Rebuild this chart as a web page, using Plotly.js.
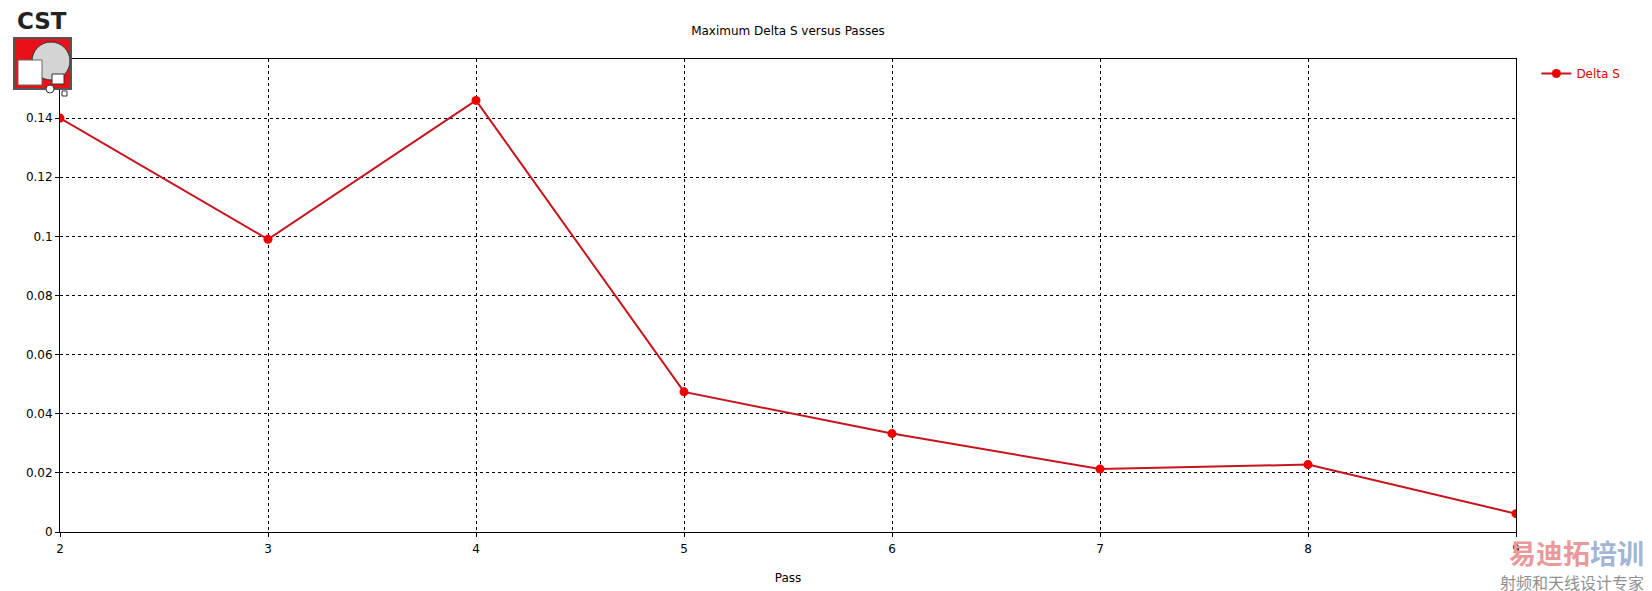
<!DOCTYPE html>
<html>
<head>
<meta charset="utf-8">
<script src="https://cdn.plot.ly/plotly-3.0.1.min.js"></script>
<style>html,body{margin:0;padding:0;background:#fff;}#chart{width:1652px;height:591px;}</style>
</head>
<body>
<div id="chart"></div>
<script>
const passes = [2, 3, 4, 5, 6, 7, 8, 9];
const deltaS = [0.140, 0.099, 0.146, 0.0474, 0.0333, 0.0213, 0.0228, 0.0062];
const yTickVals = [0, 0.02, 0.04, 0.06, 0.08, 0.1, 0.12, 0.14];
const yTickText = ['0', '0.02', '0.04', '0.06', '0.08', '0.1', '0.12', '0.14'];
const xTickVals = [2, 3, 4, 5, 6, 7, 8, 9];

const W = 1652, H = 591;
const M = {l: 60, r: 136, t: 59, b: 59};
const pw = W - M.l - M.r, ph = H - M.t - M.b;
// pixel -> paper helpers for decoration (logo, watermark)
const px = x => (x - M.l) / pw;
const py = y => (H - M.b - y) / ph;

const FONT = 'DejaVu Sans, Verdana, sans-serif';

const trace = {
  x: passes, y: deltaS, type: 'scatter', mode: 'lines+markers', name: 'Delta S',
  line: {color: '#c8141e', width: 2},
  marker: {color: '#ee0000', size: 9}
};

const shapes = [
  {type: 'rect', xref: 'paper', yref: 'paper', x0: px(14), x1: px(71), y0: py(89), y1: py(38),
   fillcolor: '#e8101a', line: {color: '#555', width: 2}, layer: 'above'},
  {type: 'circle', xref: 'paper', yref: 'paper', x0: px(32), x1: px(70), y0: py(80), y1: py(42),
   fillcolor: '#d4d4d4', line: {color: '#333', width: 1}, layer: 'above'},
  {type: 'rect', xref: 'paper', yref: 'paper', x0: px(18), x1: px(42), y0: py(85), y1: py(60),
   fillcolor: '#ffffff', line: {color: '#666', width: 1}, layer: 'above'},
  {type: 'rect', xref: 'paper', yref: 'paper', x0: px(52), x1: px(64), y0: py(84), y1: py(74),
   fillcolor: '#ffffff', line: {color: '#333', width: 1}, layer: 'above'},
  {type: 'circle', xref: 'paper', yref: 'paper', x0: px(46), x1: px(54), y0: py(93), y1: py(85),
   fillcolor: '#ffffff', line: {color: '#333', width: 1}, layer: 'above'},
  {type: 'rect', xref: 'paper', yref: 'paper', x0: px(62), x1: px(67), y0: py(96), y1: py(91),
   fillcolor: '#ffffff', line: {color: '#333', width: 1}, layer: 'above'}
];

const annotations = [
  {text: '<b>CST</b>', xref: 'paper', yref: 'paper', x: px(42), y: py(21), xanchor: 'center', yanchor: 'middle',
   showarrow: false, font: {family: 'DejaVu Sans, sans-serif', size: 23, color: '#222'}},
  {text: '<b><span style="color:#e89a9a">易迪拓</span><span style="color:#9fb6d6">培训</span></b>', xref: 'paper', yref: 'paper',
   x: px(1645), y: py(552), xanchor: 'right', yanchor: 'middle', showarrow: false, borderpad: 0,
   font: {family: 'Noto Sans CJK SC', size: 27, color: '#e89a9a'}},
  {text: '射频和天线设计专家', xref: 'paper', yref: 'paper', x: px(1645), y: py(582), xanchor: 'right', yanchor: 'middle',
   showarrow: false, borderpad: 0, font: {family: 'Noto Sans CJK SC', size: 16, color: '#909090'}}
];

const layout = {
  width: W, height: H,
  margin: M,
  paper_bgcolor: '#ffffff', plot_bgcolor: '#ffffff',
  font: {family: FONT, size: 12, color: '#000'},
  title: {text: 'Maximum Delta S versus Passes', font: {family: FONT, size: 12, color: '#000'},
          x: 0.5, xref: 'paper', xanchor: 'center', y: 1 - 31 / H, yref: 'container', yanchor: 'middle'},
  xaxis: {
    range: [2, 9], tickvals: xTickVals, ticks: 'outside', ticklen: 4, tickcolor: '#000',
    showline: true, linecolor: '#000', linewidth: 1, mirror: true,
    showgrid: true, gridcolor: '#000', gridwidth: 1, griddash: '3px,3px',
    zeroline: false, tickfont: {family: FONT, size: 12, color: '#000'}, ticklabelstandoff: 2,
    title: {text: 'Pass', font: {family: FONT, size: 12, color: '#000'}, standoff: 18}
  },
  yaxis: {
    range: [0, 0.16], tickvals: yTickVals, ticktext: yTickText, ticks: 'outside', ticklen: 4, tickcolor: '#000',
    showline: true, linecolor: '#000', linewidth: 1, mirror: true,
    showgrid: true, gridcolor: '#000', gridwidth: 1, griddash: '3px,3px',
    zeroline: false, tickfont: {family: FONT, size: 12, color: '#000'}
  },
  showlegend: true,
  legend: {x: 1.014, xanchor: 'left', y: 1.0, yanchor: 'top', bgcolor: 'rgba(0,0,0,0)',
           font: {family: FONT, size: 12, color: '#e00000'}},
  shapes: shapes,
  annotations: annotations
};

Plotly.newPlot('chart', [trace], layout, {displayModeBar: false, staticPlot: true});
</script>
</body>
</html>
